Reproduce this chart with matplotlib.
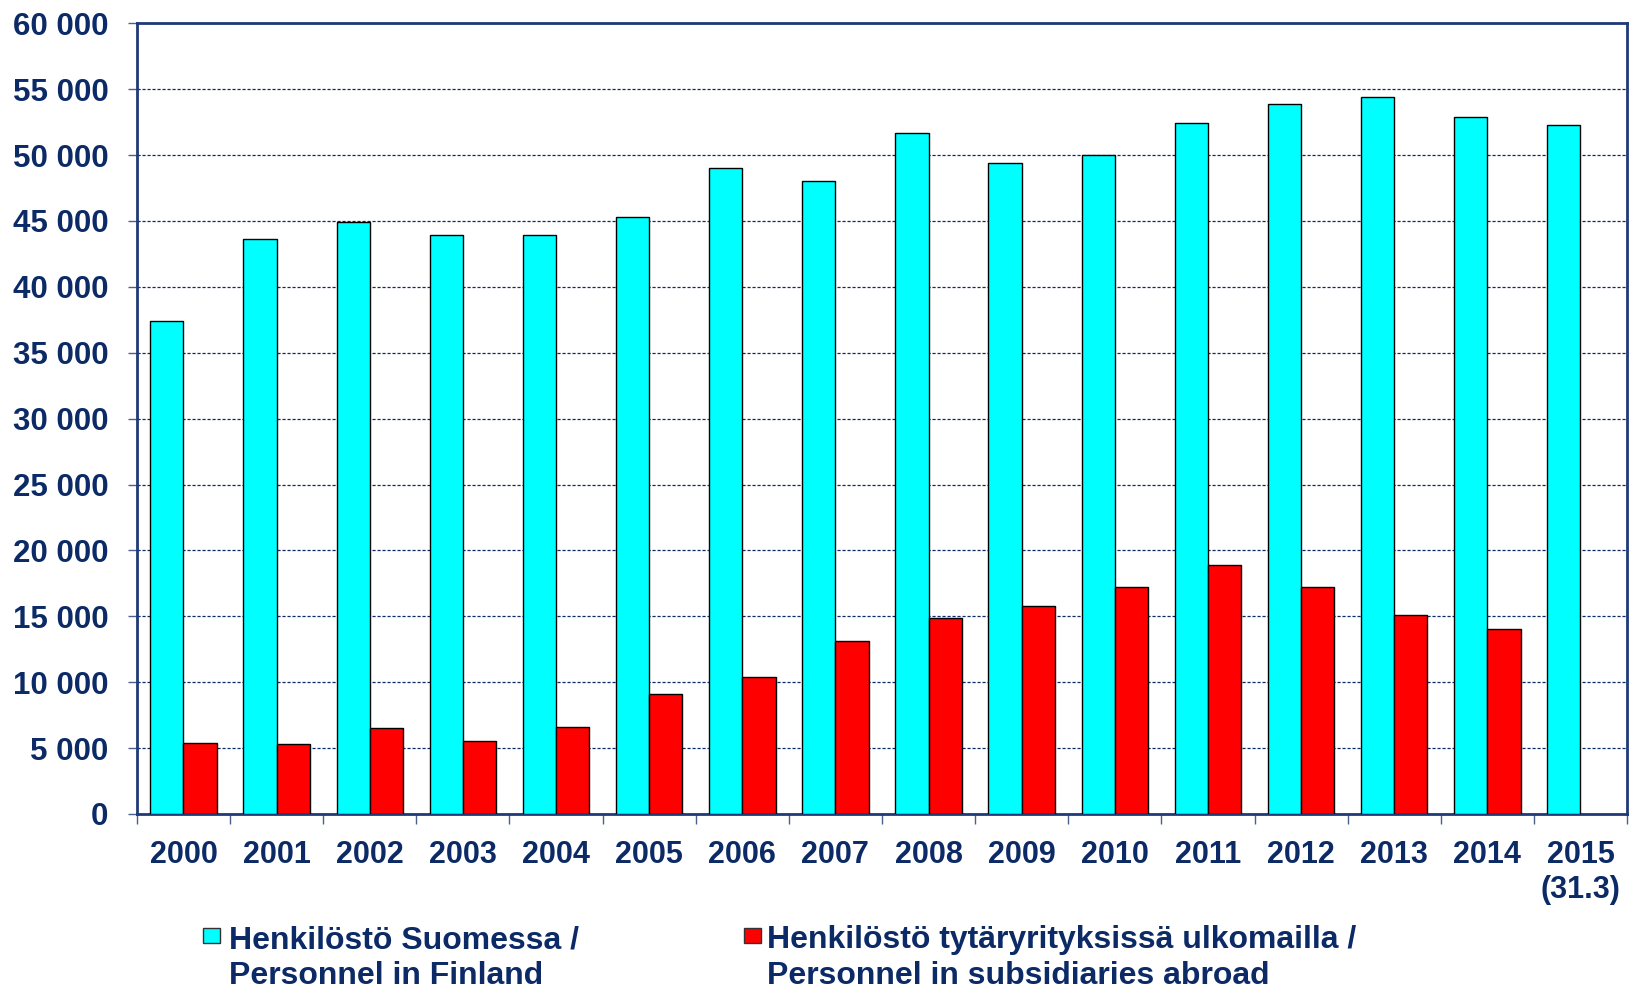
import matplotlib
matplotlib.use("Agg")
import matplotlib.pyplot as plt
import numpy as np
from matplotlib.patches import Rectangle
from matplotlib.ticker import FuncFormatter, MultipleLocator

years = ["2000", "2001", "2002", "2003", "2004", "2005", "2006", "2007",
         "2008", "2009", "2010", "2011", "2012", "2013", "2014", "2015\n(31.3)"]
finland = [37400, 43600, 44900, 43900, 43900, 45300, 49000, 48000,
           51700, 49400, 50000, 52400, 53900, 54400, 52900, 52300]
abroad = [5400, 5300, 6500, 5500, 6600, 9100, 10400, 13100,
          14900, 15800, 17200, 18900, 17200, 15100, 14000, np.nan]
labels = ["Henkilöstö Suomessa /\nPersonnel in Finland",
          "Henkilöstö tytäryrityksissä ulkomailla /\nPersonnel in subsidiaries abroad"]
colors = ["#00FFFF", "#FF0000"]

navy = "#0B2A66"
spine_col = "#1F3A78"

plt.rcParams["font.family"] = ["Liberation Sans", "DejaVu Sans"]
plt.rcParams["font.weight"] = "bold"

fig = plt.figure(figsize=(16.3, 9.84), dpi=100)
ax = fig.add_axes([0.0840, 0.1728, 0.9142, 0.8035])

x = np.arange(len(years))
w = 0.357
ax.bar(x - w / 2, finland, w, color=colors[0], edgecolor="black", linewidth=1, zorder=3)
ax.bar(x + w / 2, abroad, w, color=colors[1], edgecolor="black", linewidth=1, zorder=3)

ax.set_xlim(-0.5, len(years) - 0.5)
ax.set_ylim(0, 60000)
ax.yaxis.set_major_locator(MultipleLocator(5000))
ax.yaxis.set_major_formatter(FuncFormatter(lambda v, p: f"{int(v):,}".replace(",", " ")))
ax.grid(axis="y", color=navy, linestyle=(0, (2.5, 1.5)), linewidth=0.9, zorder=0)

ax.set_xticks(x)
ax.set_xticklabels(years)
ax.set_xticks(np.arange(len(years) + 1) - 0.5, minor=True)
ax.tick_params(axis="x", which="major", length=0, pad=19, labelsize=22, labelcolor=navy)
ax.tick_params(axis="x", which="minor", length=7.5, width=1, color="#4A5F8A", direction="out")
ax.tick_params(axis="y", length=6.5, width=1, color="#4A5F8A", pad=14, labelsize=22.5, labelcolor=navy)

for s in ax.spines.values():
    s.set_color(spine_col)
    s.set_linewidth(2)

# legend drawn below the axes, second line runs off the bottom edge
entries = [(203, 229), (744, 767)]
for (mx, tx), lab, c in zip(entries, labels, colors):
    fig.patches.append(Rectangle((mx / 1630, 1 - 943 / 984), 17 / 1630, 15 / 984,
                                 transform=fig.transFigure, facecolor=c,
                                 edgecolor="#333333", linewidth=1))
    fig.text(tx / 1630, 1 - 983.5 / 984, lab, fontsize=23, color=navy, ha="left",
             va="baseline", linespacing=1.22, fontweight="bold")

fig.savefig("out.png", dpi=100)
